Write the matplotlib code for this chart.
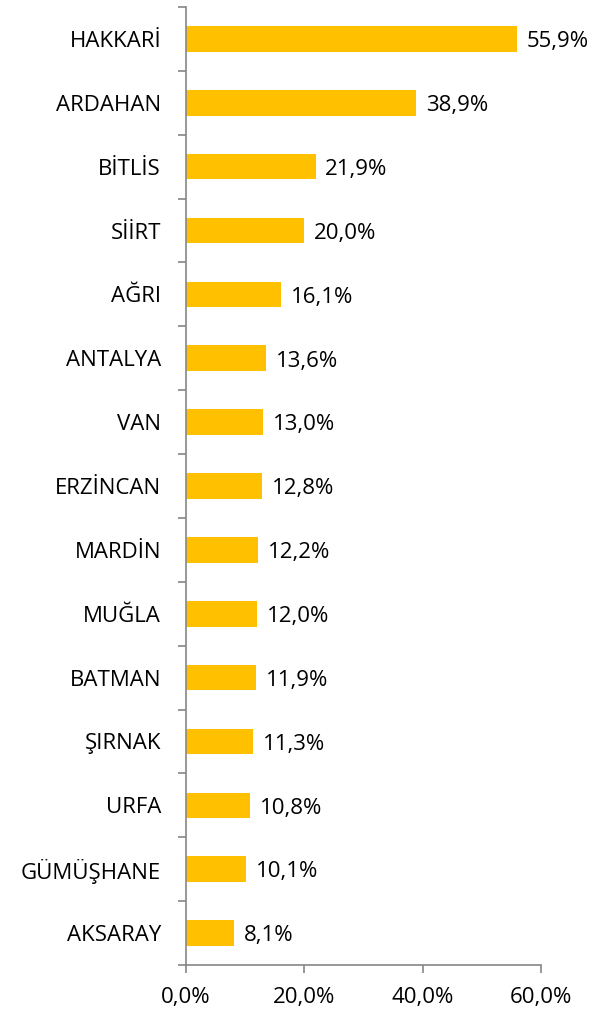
import numpy as np
import matplotlib.pyplot as plt
from matplotlib.ticker import FixedLocator, FuncFormatter

provinces = ["HAKKARİ", "ARDAHAN", "BİTLİS", "SİİRT", "AĞRI", "ANTALYA", "VAN",
             "ERZİNCAN", "MARDİN", "MUĞLA", "BATMAN", "ŞIRNAK", "URFA",
             "GÜMÜŞHANE", "AKSARAY"]
shares = [55.9, 38.9, 21.9, 20.0, 16.1, 13.6, 13.0, 12.8, 12.2, 12.0, 11.9,
          11.3, 10.8, 10.1, 8.1]
x_ticks = [0, 20, 40, 60]

plt.rcParams["font.family"] = ["Open Sans", "DejaVu Sans"]
FS = 16

fig = plt.figure(figsize=(6.14, 10.13), dpi=100)
ax = fig.add_axes([186 / 614, 1 - 965 / 1013, (541 - 186) / 614, (965 - 7) / 1013])

y = np.arange(len(provinces))
ax.barh(y, shares, height=0.4, color="#FFC000")

def fmt(v):
    return f"{v:.1f}".replace(".", ",") + "%"

# value labels sit a touch below the bar centre, like the original
for yi, v in zip(y, shares):
    ax.annotate(fmt(v), (v, yi), xytext=(7, -2), textcoords="offset points",
                va="center", ha="left", fontsize=FS)

ax.set_ylim(len(provinces) - 0.5, -0.5)
ax.set_xlim(0, 60)
ax.set_yticks(y)
ax.set_yticklabels(provinces, fontsize=FS)
ax.tick_params(axis="y", which="major", length=0, pad=18)
ax.yaxis.set_minor_locator(FixedLocator(np.arange(-0.5, len(provinces), 1)))
ax.tick_params(axis="y", which="minor", length=6, color="#868686", width=1.2)

ax.set_xticks(x_ticks)
ax.xaxis.set_major_formatter(FuncFormatter(lambda v, p: fmt(v)))
ax.tick_params(axis="x", length=6, color="#868686", width=1.2, labelsize=FS, pad=10)

for s in ["top", "right"]:
    ax.spines[s].set_visible(False)
for s in ["left", "bottom"]:
    ax.spines[s].set_color("#868686")
    ax.spines[s].set_linewidth(1.2)

fig.savefig("out.png", dpi=100)
